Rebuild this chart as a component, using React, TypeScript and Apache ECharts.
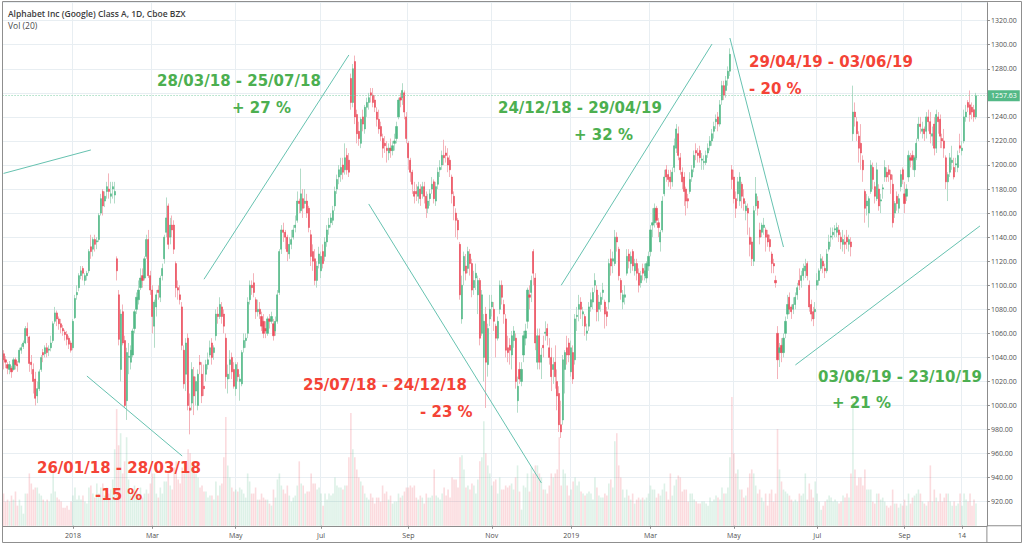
import React, { useEffect, useRef } from "react";
import * as echarts from "echarts";

// ---------- calendar ----------
const firstDay = "2017-11-09";
const holidays = [
  "2017-11-23", "2017-12-25", "2018-01-01", "2018-01-15", "2018-02-19", "2018-03-30",
  "2018-05-28", "2018-07-04", "2018-09-03", "2018-11-22", "2018-12-05", "2018-12-25",
  "2019-01-01", "2019-01-21", "2019-02-18", "2019-04-19", "2019-05-27", "2019-07-04", "2019-09-02",
];
const paddingSlots = 5;

// ---------- tick labels ----------
const xTickLabels: [string, string][] = [
  ["2018-01-02", "2018"], ["2018-03-01", "Mar"], ["2018-05-01", "May"], ["2018-07-02", "Jul"],
  ["2018-09-04", "Sep"], ["2018-11-01", "Nov"], ["2019-01-02", "2019"], ["2019-03-01", "Mar"],
  ["2019-05-01", "May"], ["2019-07-01", "Jul"], ["2019-09-03", "Sep"], ["2019-10-14", "14"],
];

// ---------- candles [open, close, low, high] ----------
const nov2017 = [
  [1043,1038,1030,1046],[1038,1036,1031,1041],[1034,1031,1026,1036],[1030,1034,1026,1037],[1031,1028,1023,1033],
  [1030,1038,1029,1040],[1038,1034,1030,1040],[1034,1033,1028,1037],[1036,1046,1035,1048],[1046,1048,1043,1051],
  [1049,1052,1047,1054],[1052,1064,1051,1066],[1064,1058,1052,1069],[1057,1035,1028,1058],[1036,1034,1026,1042]];
const dec2017 = [
  [1030,1020,1010,1035],[1022,1006,1000,1028],[1008,1014,1002,1020],[1014,1028,1012,1030],[1030,1040,1028,1042],
  [1044,1042,1036,1047],[1043,1048,1040,1050],[1048,1044,1040,1052],[1046,1047,1041,1050],[1048,1052,1045,1058],
  [1054,1068,1052,1070],[1070,1077,1068,1082],[1077,1072,1066,1079],[1072,1068,1063,1074],[1068,1065,1060,1072],
  [1064,1062,1058,1067],[1061,1059,1054,1063],[1059,1055,1050,1062],[1056,1051,1047,1058],[1052,1046,1044,1054]];
const jan2018 = [
  [1048,1070,1046,1072],[1073,1089,1072,1092],[1092,1094,1088,1100],[1098,1108,1095,1110],[1108,1112,1105,1116],
  [1114,1110,1104,1116],[1104,1108,1100,1110],[1108,1110,1104,1112],[1112,1128,1110,1130],[1132,1128,1122,1142],
  [1130,1138,1124,1140],[1138,1134,1128,1142],[1136,1137,1130,1140],[1138,1158,1136,1160],[1160,1172,1158,1176],
  [1178,1166,1158,1180],[1170,1174,1165,1178],[1178,1182,1172,1186],[1180,1178,1172,1193],[1174,1176,1168,1186],
  [1180,1182,1172,1186]];
const feb2018 = [
  [1175,1178,1168,1186],[1122,1112,1104,1124],[1092,1055,1050,1096],[1030,1076,1020,1080],[1078,1052,1050,1084],
  [1054,1000,998,1058],[1004,1044,988,1048],[1040,1041,1026,1052],[1036,1046,1030,1050],[1042,1062,1040,1064],
  [1064,1078,1060,1080],[1080,1090,1076,1094],[1088,1096,1084,1104],[1098,1106,1096,1114],[1108,1104,1098,1114],
  [1106,1122,1104,1124],[1124,1138,1122,1142],[1138,1108,1106,1146],[1108,1096,1092,1112]];
const mar2018 = [
  [1096,1074,1060,1100],[1066,1086,1048,1088],[1082,1092,1074,1096],[1096,1094,1088,1100],[1090,1106,1086,1108],
  [1108,1114,1104,1118],[1122,1140,1118,1142],[1144,1156,1140,1173],[1166,1134,1130,1168],[1140,1150,1134,1156],
  [1150,1146,1140,1158],[1150,1130,1126,1154],[1118,1098,1090,1120],[1098,1096,1088,1104],[1092,1088,1084,1100],
  [1082,1050,1046,1086],[1046,1018,1014,1050],[1026,1052,1012,1056],[1056,1000,996,1060],[998,996,976,1010],
  [1002,1030,996,1036]];
const apr2018 = [
  [1024,1008,992,1032],[1012,1020,1000,1024],[1000,1026,996,1030],[1036,1034,1026,1042],[1026,1008,1002,1036],
  [1016,1014,1008,1034],[1026,1034,1020,1038],[1034,1038,1030,1044],[1042,1048,1040,1054],[1052,1040,1034,1056],
  [1044,1048,1038,1050],[1058,1076,1054,1080],[1076,1074,1068,1082],[1074,1084,1072,1090],[1082,1074,1068,1086],
  [1076,1066,1060,1080],[1056,1024,1014,1060],[1022,1026,1010,1034],[1034,1038,1022,1046],[1040,1028,1022,1044],
  [1030,1016,1014,1036]];
const may2018 = [
  [1014,1034,1008,1036],[1030,1024,1020,1036],[1020,1022,1004,1026],[1018,1044,1016,1046],[1048,1054,1044,1060],
  [1054,1056,1048,1060],[1060,1086,1056,1090],[1088,1100,1084,1104],[1100,1098,1092,1104],[1102,1094,1090,1110],
  [1088,1078,1072,1090],[1078,1080,1074,1088],[1080,1076,1072,1086],[1074,1066,1062,1078],[1070,1060,1056,1076],
  [1064,1062,1056,1070],[1060,1072,1058,1074],[1072,1070,1064,1076],[1070,1074,1068,1078],[1068,1058,1054,1072],
  [1062,1070,1058,1074],[1070,1092,1068,1096]];
const jun2018 = [
  [1094,1128,1092,1130],[1130,1146,1126,1150],[1146,1144,1136,1152],[1144,1140,1130,1146],[1140,1128,1120,1142],
  [1126,1134,1122,1140],[1134,1138,1130,1146],[1140,1146,1138,1150],[1148,1150,1144,1158],[1154,1170,1152,1178],
  [1170,1168,1160,1172],[1162,1176,1160,1197],[1172,1164,1156,1180],[1168,1170,1164,1180],[1170,1160,1156,1176],
  [1164,1148,1144,1166],[1142,1124,1116,1146],[1128,1120,1112,1134],[1122,1104,1100,1130],[1104,1116,1098,1120],
  [1118,1126,1114,1132]];
const jul2018 = [
  [1112,1124,1106,1128],[1128,1118,1114,1134],[1124,1136,1120,1140],[1136,1146,1132,1150],[1148,1150,1142,1156],
  [1152,1156,1148,1160],[1154,1162,1150,1166],[1166,1178,1162,1182],[1180,1188,1176,1192],[1190,1196,1184,1200],
  [1192,1198,1186,1206],[1200,1194,1188,1206],[1196,1206,1192,1218],[1208,1196,1192,1214],[1204,1194,1190,1210],
  [1272,1252,1246,1276],[1252,1280,1248,1284],[1286,1240,1234,1291],[1242,1226,1218,1246],[1228,1222,1216,1236],
  [1218,1238,1214,1240]];
const aug2018 = [
  [1240,1234,1228,1246],[1230,1248,1226,1250],[1248,1252,1240,1256],[1252,1256,1246,1260],[1260,1258,1252,1264],
  [1258,1252,1248,1264],[1254,1248,1244,1258],[1244,1238,1232,1248],[1238,1230,1226,1246],[1232,1224,1220,1236],
  [1222,1214,1206,1226],[1218,1216,1210,1224],[1214,1212,1202,1220],[1210,1214,1204,1218],[1214,1212,1206,1222],
  [1212,1216,1208,1220],[1218,1220,1212,1226],[1222,1232,1218,1236],[1240,1254,1238,1256],[1256,1254,1248,1260],
  [1256,1262,1250,1268],[1260,1244,1238,1262],[1240,1222,1218,1244]];
const sep2018 = [
  [1218,1206,1196,1220],[1204,1194,1186,1206],[1194,1184,1176,1196],[1178,1174,1168,1186],[1178,1176,1170,1184],
  [1174,1182,1168,1186],[1180,1172,1166,1184],[1176,1182,1172,1186],[1182,1174,1168,1186],[1174,1164,1156,1178],
  [1164,1170,1160,1176],[1172,1176,1166,1180],[1180,1184,1176,1190],[1186,1172,1168,1188],[1170,1182,1166,1186],
  [1184,1194,1180,1198],[1196,1198,1190,1204],[1200,1208,1196,1212],[1208,1206,1200,1221]];
const oct2018 = [
  [1210,1208,1202,1216],[1206,1200,1194,1214],[1204,1196,1190,1208],[1190,1176,1168,1192],[1174,1166,1154,1178],
  [1160,1154,1140,1164],[1154,1146,1138,1156],[1134,1092,1088,1136],[1072,1100,1068,1108],[1112,1124,1100,1128],
  [1116,1110,1104,1126],[1114,1128,1110,1132],[1126,1118,1108,1130],[1118,1096,1090,1122],[1098,1104,1092,1112],
  [1106,1110,1096,1118],[1092,1104,1076,1108],[1104,1056,1050,1106],[1060,1092,1058,1096],[1040,1070,1020,1076],
  [1076,1036,998,1082],[1034,1064,1024,1068],[1072,1080,1066,1092]];
const nov2018 = [
  [1082,1086,1074,1092],[1080,1070,1062,1086],[1066,1056,1040,1068],[1056,1070,1054,1074],[1080,1100,1076,1104],
  [1100,1090,1084,1104],[1084,1076,1068,1088],[1072,1046,1040,1076],[1048,1044,1036,1058],[1050,1046,1034,1056],
  [1042,1058,1030,1062],[1054,1062,1048,1066],[1056,1020,1014,1060],[1004,1016,994,1024],[1030,1022,1018,1036],
  [1020,1030,1016,1036],[1042,1058,1036,1062],[1056,1062,1050,1068],[1070,1096,1064,1098],[1092,1090,1080,1100],
  [1094,1104,1086,1108]];
const dec2018 = [
  [1128,1110,1100,1130],[1106,1052,1046,1110],[1036,1058,1030,1064],[1058,1036,1030,1064],[1036,1042,1022,1048],
  [1050,1048,1040,1058],[1060,1061,1054,1070],[1064,1058,1050,1068],[1048,1040,1034,1056],[1040,1024,1012,1048],
  [1030,1034,1018,1040],[1036,1024,1014,1050],[1020,1008,996,1030],[1010,984,978,1016],[984,978,973,1004],
  [988,1038,984,1042],[1030,1044,1010,1046],[1048,1042,1034,1058],[1052,1042,1036,1056]];
const jan2019 = [
  [1028,1048,1024,1054],[1044,1022,1018,1050],[1038,1072,1034,1076],[1074,1075,1062,1082],[1080,1084,1070,1092],
  [1086,1080,1072,1090],[1076,1078,1066,1082],[1074,1066,1058,1076],[1060,1062,1054,1068],[1066,1082,1062,1086],
  [1082,1088,1078,1094],[1086,1094,1080,1098],[1100,1104,1094,1110],[1096,1078,1070,1100],[1080,1086,1070,1092],
  [1084,1090,1078,1094],[1094,1096,1088,1102],[1086,1076,1064,1088],[1078,1074,1066,1082],[1086,1118,1080,1122],
  [1122,1116,1108,1130]];
const feb2019 = [
  [1120,1122,1110,1128],[1118,1140,1116,1146],[1140,1136,1128,1144],[1130,1108,1104,1132],[1104,1094,1088,1106],
  [1086,1092,1080,1096],[1090,1092,1084,1100],[1110,1124,1108,1130],[1126,1120,1114,1130],[1118,1124,1110,1128],
  [1128,1116,1112,1130],[1112,1118,1108,1122],[1118,1110,1104,1122],[1110,1100,1094,1114],[1102,1108,1098,1112],
  [1114,1110,1104,1118],[1108,1112,1104,1118],[1106,1118,1102,1120],[1116,1124,1112,1128]];
const mar2019 = [
  [1128,1146,1124,1150],[1150,1152,1140,1164],[1152,1164,1148,1168],[1164,1154,1150,1166],[1152,1148,1140,1156],
  [1136,1144,1128,1146],[1146,1170,1144,1174],[1176,1190,1174,1196],[1196,1190,1186,1200],[1192,1188,1182,1196],
  [1190,1186,1180,1196],[1186,1194,1182,1198],[1198,1216,1194,1222],[1214,1230,1210,1234],[1226,1208,1204,1232],
  [1206,1196,1192,1210],[1194,1186,1180,1198],[1190,1178,1166,1194],[1180,1170,1158,1182],[1172,1170,1164,1176],
  [1178,1188,1176,1194]];
const apr2019 = [
  [1190,1196,1186,1200],[1198,1208,1194,1212],[1212,1210,1204,1218],[1210,1208,1202,1214],[1212,1206,1202,1216],
  [1204,1205,1196,1210],[1202,1203,1196,1208],[1202,1208,1200,1212],[1210,1214,1206,1218],[1216,1220,1212,1224],
  [1220,1226,1216,1230],[1228,1232,1222,1236],[1236,1238,1230,1242],[1240,1234,1228,1244],[1234,1250,1232,1254],
  [1254,1266,1250,1270],[1266,1258,1254,1270],[1262,1270,1256,1274],[1272,1278,1266,1282],[1278,1292,1274,1297],
  [1196,1188,1180,1200]];
const may2019 = [
  [1190,1172,1168,1196],[1172,1164,1156,1178],[1176,1186,1170,1190],[1170,1190,1166,1194],[1184,1174,1164,1186],
  [1172,1168,1162,1180],[1162,1166,1154,1170],[1164,1160,1142,1168],[1140,1134,1124,1148],[1136,1122,1116,1140],
  [1120,1162,1116,1166],[1166,1176,1162,1190],[1170,1164,1158,1174],[1146,1140,1134,1152],[1144,1150,1140,1152],
  [1148,1150,1142,1156],[1146,1140,1128,1148],[1142,1136,1132,1146],[1138,1132,1128,1142],[1126,1118,1110,1128],
  [1118,1116,1110,1122],[1104,1102,1098,1108]];
const jun2019 = [
  [1060,1038,1022,1066],[1044,1048,1032,1052],[1050,1044,1036,1056],[1044,1056,1040,1060],[1060,1070,1056,1074],
  [1076,1084,1072,1092],[1090,1080,1076,1094],[1082,1078,1072,1084],[1080,1084,1076,1090],[1084,1090,1080,1094],
  [1092,1098,1088,1102],[1104,1100,1096,1114],[1104,1108,1098,1112],[1108,1114,1104,1118],[1112,1116,1106,1122],
  [1118,1108,1104,1120],[1100,1082,1078,1104],[1084,1076,1070,1088],[1078,1072,1066,1082],[1078,1080,1072,1086]];
const jul2019 = [
  [1100,1104,1096,1110],[1104,1112,1100,1114],[1114,1122,1112,1126],[1120,1116,1110,1124],[1114,1112,1106,1118],
  [1112,1126,1110,1130],[1130,1136,1128,1142],[1140,1141,1132,1148],[1142,1144,1138,1148],[1146,1147,1140,1150],
  [1144,1148,1140,1152],[1146,1142,1136,1150],[1140,1136,1130,1144],[1134,1138,1128,1146],[1136,1134,1126,1142],
  [1140,1136,1130,1146],[1134,1138,1128,1142],[1136,1132,1124,1140],[1226,1244,1220,1266],[1244,1240,1232,1252],
  [1236,1226,1220,1240],[1224,1214,1202,1228]];
const aug2019 = [
  [1218,1210,1196,1234],[1204,1196,1186,1208],[1178,1164,1152,1180],[1166,1170,1158,1176],[1160,1172,1148,1174],
  [1178,1200,1176,1204],[1198,1188,1180,1202],[1182,1174,1168,1186],[1172,1196,1170,1202],[1180,1166,1162,1184],
  [1170,1171,1160,1176],[1180,1181,1172,1184],[1190,1198,1186,1204],[1194,1190,1186,1198],[1196,1192,1186,1200],
  [1192,1188,1176,1196],[1184,1152,1148,1192],[1160,1168,1156,1170],[1174,1168,1162,1178],[1164,1172,1160,1176],
  [1182,1192,1178,1196],[1196,1188,1184,1198]];
const sep2019 = [
  [1176,1168,1160,1186],[1174,1180,1170,1184],[1190,1208,1186,1212],[1206,1204,1198,1210],[1208,1204,1196,1212],
  [1196,1206,1190,1208],[1206,1218,1204,1222],[1222,1234,1220,1240],[1234,1232,1226,1240],[1228,1230,1222,1236],
  [1230,1226,1220,1232],[1228,1240,1222,1244],[1240,1236,1228,1246],[1236,1226,1218,1244],[1224,1226,1216,1232],
  [1234,1214,1208,1240],[1214,1242,1210,1246],[1240,1236,1226,1244],[1238,1224,1214,1242],[1222,1220,1214,1226]];
const oct2019 = [
  [1220,1214,1206,1230],[1206,1186,1180,1208],[1186,1192,1170,1194],[1194,1206,1190,1210],[1202,1204,1196,1216],
  [1198,1190,1188,1206],[1200,1201,1194,1206],[1198,1208,1194,1212],[1216,1214,1210,1226],[1212,1214,1208,1220],
  [1220,1240,1218,1246],[1240,1244,1236,1250],[1252,1248,1244,1254],[1250,1242,1236,1262],[1248,1244,1238,1252],
  [1246,1240,1236,1250],[1240,1257.63,1238,1260]];

// ---------- volume (millions) ----------
const volNov2017 = [1.6,1.2,1.3,1.2,1.5,1.3,1.7,1.0,1.3,1.0,0.6,1.6,1.6,2.6,2.1];
const volDec2017 = [1.8,1.9,1.9,1.6,1.5,1.3,1.2,1.3,1.2,1.6,2.8,1.7,1.4,1.3,1.2,0.9,0.9,1.0,0.8,1.2];
const volJan2018 = [1.5,1.9,1.3,1.5,1.3,1.5,1.2,1.1,1.9,2.0,1.6,1.4,2.1,1.6,1.9,2.1,1.5,1.9,1.6,1.8,2.3];
const volFeb2018 = [3.8,5.8,4.0,4.6,2.6,3.2,4.4,2.3,1.5,1.8,2.0,1.7,1.6,1.9,1.4,1.6,1.8,1.6,2.1];
const volMar2018 = [2.6,2.6,1.6,1.4,1.9,1.6,2.2,2.2,2.6,2.0,1.8,2.9,3.2,2.3,2.1,2.9,2.6,3.2,3.8,3.6,3.0];
const volApr2018 = [2.8,2.6,2.4,1.9,2.0,1.7,1.7,1.4,1.5,1.5,1.3,2.2,1.5,2.0,2.1,3.4,5.4,3.0,2.4,1.9,1.7];
const volMay2018 = [1.8,1.7,1.9,1.8,1.6,1.4,2.6,2.2,1.6,1.6,1.9,1.3,1.3,1.6,1.4,1.3,1.3,1.1,1.0,1.8,1.4,2.3];
const volJun2018 = [2.6,2.0,1.8,1.6,2.0,1.5,1.2,1.4,1.5,2.0,3.2,2.1,2.0,1.6,1.7,1.7,2.6,2.1,2.1,1.8,1.9];
const volJul2018 = [1.6,1.0,1.6,1.3,1.6,1.5,1.6,2.4,2.0,1.9,1.9,1.8,2.0,2.0,3.4,5.6,3.8,3.4,2.8,2.4,2.2];
const volAug2018 = [2.0,1.6,1.4,1.3,1.6,1.4,1.1,1.4,1.4,1.2,2.0,1.6,1.7,1.3,1.5,1.1,1.2,1.2,1.6,1.4,1.5,1.7,1.9];
const volSep2018 = [1.9,2.0,1.9,2.0,1.4,1.3,1.5,1.4,1.1,1.6,1.4,1.4,1.5,2.8,1.5,1.4,1.3,1.6,1.9];
const volOct2018 = [1.5,1.8,1.4,2.4,2.3,2.3,1.9,3.4,3.5,2.8,1.9,2.0,1.8,2.1,2.0,1.6,2.3,3.2,3.4,5.2,3.6,3.0,2.6];
const volNov2018 = [2.0,2.2,2.3,1.6,2.4,1.8,1.8,2.0,1.9,2.0,2.1,1.8,2.4,3.0,1.7,0.8,2.0,1.9,2.6,1.7,2.9];
const volDec2018 = [2.6,3.0,3.0,2.6,2.4,1.8,1.8,1.6,2.0,2.6,2.4,2.6,2.8,4.4,2.0,2.8,2.6,2.0,1.5];
const volJan2019 = [1.8,2.2,2.4,2.0,2.2,1.7,1.6,1.5,1.6,1.7,1.6,1.3,2.4,1.9,1.5,1.4,1.4,1.6,1.5,2.1,2.3];
const volFeb2019 = [1.9,4.2,4.6,3.0,2.4,1.8,1.4,1.8,1.5,1.3,1.6,1.1,1.3,1.4,1.3,1.4,1.3,1.4,1.6];
const volMar2019 = [2.0,1.8,1.8,1.4,1.6,1.5,1.8,2.1,1.7,1.3,2.6,1.5,2.0,2.3,2.5,2.4,1.7,1.8,1.8,1.2,1.6];
const volApr2019 = [1.6,1.3,1.2,1.1,1.1,1.2,1.2,1.1,1.0,1.4,1.2,1.3,1.5,1.4,1.3,1.9,1.6,1.6,1.9,3.4,6.4];
const volMay2019 = [3.6,2.6,2.8,1.8,1.8,1.4,1.5,1.9,2.6,2.8,2.6,2.0,1.6,1.8,1.4,1.2,1.6,1.0,1.6,1.8,1.2,1.6];
const volJun2019 = [4.8,2.8,2.2,1.8,1.7,1.6,1.5,1.3,1.2,1.3,1.2,1.6,1.5,1.6,2.6,1.3,2.1,1.8,1.4,2.2];
const volJul2019 = [1.6,1.2,0.8,1.0,1.2,1.3,1.5,1.4,1.2,1.3,1.2,1.1,1.2,1.5,1.4,1.6,1.4,2.6,6.2,2.8,2.0,2.4];
const volAug2019 = [2.4,2.0,2.8,1.8,1.8,1.8,1.2,1.1,1.6,1.6,1.3,1.4,1.2,1.0,0.9,1.0,1.8,1.1,1.1,0.9,1.1,1.0];
const volSep2019 = [1.3,1.0,1.6,1.1,1.4,1.5,1.6,1.8,1.6,1.2,1.1,1.0,1.2,3.0,1.2,1.8,1.4,1.2,1.6,1.2];
const volOct2019 = [1.4,1.6,1.6,1.2,1.0,1.2,1.0,1.1,1.6,1.0,1.6,1.3,1.2,1.6,1.0,1.3,1.1];

// ---------- drawn trend lines: [startIndex, startPrice, endIndex, endPrice] ----------
const trendLines = [
  [0, 1193, 44, 1212.5],
  [42, 1024.5, 90, 958],
  [101, 1105, 174, 1291.5],
  [184, 1167.6, 271, 935.6],
  [281, 1100, 357, 1300.6],
  [366, 1305.6, 393, 1131.8],
  [399, 1033.7, 492, 1149.3],
];

// ---------- annotation texts ----------
const annotationTexts = [
  "28/03/18 - 25/07/18", "+ 27 %",
  "24/12/18 - 29/04/19", "+ 32 %",
  "29/04/19 - 03/06/19", "- 20 %",
  "25/07/18 - 24/12/18", "- 23 %",
  "26/01/18 - 28/03/18", "-15 %",
  "03/06/19 - 23/10/19", "+ 21 %",
];
const annotationKinds = ["up", "up", "up", "up", "down", "down", "down", "down", "down", "down", "up", "up"];
const annotationPos = [
  [157, 81], [232, 108],
  [498, 108], [574, 135],
  [749, 62], [749, 89],
  [303, 385], [420, 412],
  [37, 468], [95, 495],
  [818, 377], [832, 403],
];

const candles: number[][] = [
  ...nov2017, ...dec2017, ...jan2018, ...feb2018, ...mar2018, ...apr2018, ...may2018, ...jun2018,
  ...jul2018, ...aug2018, ...sep2018, ...oct2018, ...nov2018, ...dec2018, ...jan2019, ...feb2019,
  ...mar2019, ...apr2019, ...may2019, ...jun2019, ...jul2019, ...aug2019, ...sep2019, ...oct2019,
];
const volumes: number[] = [
  ...volNov2017, ...volDec2017, ...volJan2018, ...volFeb2018, ...volMar2018, ...volApr2018, ...volMay2018,
  ...volJun2018, ...volJul2018, ...volAug2018, ...volSep2018, ...volOct2018, ...volNov2018, ...volDec2018,
  ...volJan2019, ...volFeb2019, ...volMar2019, ...volApr2019, ...volMay2019, ...volJun2019, ...volJul2019,
  ...volAug2019, ...volSep2019, ...volOct2019,
];

function tradingDays(start: string, count: number): string[] {
  const out: string[] = [];
  const hol = new Set(holidays);
  const d = new Date(start + "T00:00:00Z");
  while (out.length < count) {
    const wd = d.getUTCDay();
    const s = d.toISOString().slice(0, 10);
    if (wd !== 0 && wd !== 6 && !hol.has(s)) out.push(s);
    d.setUTCDate(d.getUTCDate() + 1);
  }
  return out;
}

const UP = "#53b987";
const DOWN = "#eb4d5c";
const WICK_UP = "#b3dcc8";
const WICK_DOWN = "#f4b3ba";
const TEXT_UP = "#4caf50";
const TEXT_DOWN = "#f44336";
const GRID = "#e8eef2";
const AXIS = "#8c8c8c";
const LABEL = "#4f4f4f";
const FONT = '"Open Sans", Roboto, sans-serif';

export default function App() {
  const ref = useRef<HTMLDivElement>(null);

  useEffect(() => {
    if (!ref.current) return;
    const chart = echarts.init(ref.current, undefined, { renderer: "svg" });

    const dates = tradingDays(firstDay, candles.length + paddingSlots);
    const tickMap = new Map(xTickLabels);
    const isTick = (_i: number, v: string) => tickMap.has(v);
    const bodies = candles.map(([o, c]) => [o, c, Math.min(o, c), Math.max(o, c)]);
    const volData = volumes.map((v, i) => ({
      value: v,
      itemStyle: {
        color: candles[i][1] >= candles[i][0] ? "rgba(83,185,135,0.2)" : "rgba(235,77,92,0.2)",
      },
    }));
    const lastPrice = candles[candles.length - 1][1];

    const graphics: any[] = [
      {
        type: "rect", silent: true, z: 100,
        shape: { x: 2.5, y: 1.5, width: 1019, height: 541 },
        style: { fill: "none", stroke: "#8f8f8f", lineWidth: 1 },
      },
      {
        type: "line", silent: true, z: 100,
        shape: { x1: 987, y1: 525.75, x2: 1021.5, y2: 525.75 },
        style: { stroke: AXIS, lineWidth: 1 },
      },
      {
        type: "line", silent: true, z: 100,
        shape: { x1: 986.9, y1: 525.75, x2: 986.9, y2: 542.5 },
        style: { stroke: AXIS, lineWidth: 1 },
      },
      {
        type: "text", silent: true, z: 100, x: 8, y: 13.5,
        style: {
          text: "Alphabet Inc (Google) Class A, 1D, Cboe BZX",
          fill: "#3c3c3c", fontSize: 8.5, fontWeight: 600, fontFamily: FONT, verticalAlign: "middle",
        },
      },
      {
        type: "text", silent: true, z: 100, x: 8, y: 25,
        style: { text: "Vol (20)", fill: "#4a4a4a", fontSize: 8.5, fontFamily: FONT, verticalAlign: "middle" },
      },
      ...annotationTexts.map((t, i) => ({
        type: "text", silent: true, z: 100,
        x: annotationPos[i][0], y: annotationPos[i][1],
        style: {
          text: t,
          fill: annotationKinds[i] === "up" ? TEXT_UP : TEXT_DOWN,
          fontSize: 15, fontWeight: "bold", fontFamily: '"DejaVu Sans", Verdana, sans-serif',
          verticalAlign: "middle", align: "left",
        },
      })),
    ];

    chart.setOption({
      animation: false,
      backgroundColor: "#ffffff",
      grid: { left: 2.56, right: 37.1, top: 2.66, bottom: 22.25, containLabel: false },
      xAxis: {
        type: "category",
        data: dates,
        boundaryGap: true,
        axisLine: { show: true, lineStyle: { color: AXIS, width: 1 } },
        axisTick: { show: true, interval: isTick, alignWithLabel: true, length: 3, lineStyle: { color: AXIS } },
        axisLabel: {
          interval: isTick,
          formatter: (v: string) => tickMap.get(v) || "",
          fontSize: 7, color: LABEL, fontFamily: FONT, margin: 6,
        },
        splitLine: { show: true, interval: isTick, lineStyle: { color: GRID, width: 1 } },
      },
      yAxis: [
        {
          type: "value",
          position: "right",
          min: 900,
          max: 1335,
          interval: 20,
          axisLine: { show: true, lineStyle: { color: AXIS, width: 1 } },
          axisTick: { show: true, length: 3, lineStyle: { color: AXIS } },
          axisLabel: {
            // the last-price tag covers the neighbouring tick label
            formatter: (v: number) => (Math.abs(v - lastPrice) < 8 ? "" : v.toFixed(2)),
            fontSize: 7, color: LABEL, fontFamily: FONT, margin: 4,
            showMinLabel: false, showMaxLabel: false,
          },
          splitLine: { show: true, lineStyle: { color: GRID, width: 1 } },
        },
        { type: "value", min: 0, max: 26, show: false, splitLine: { show: false } },
      ],
      series: [
        {
          type: "bar",
          yAxisIndex: 1,
          data: volData,
          barWidth: 1.6,
          silent: true,
          z: 1,
        },
        {
          type: "candlestick",
          data: candles,
          barWidth: 1,
          clip: false,
          silent: true,
          z: 2,
          itemStyle: {
            color: WICK_UP, color0: WICK_DOWN, borderColor: WICK_UP, borderColor0: WICK_DOWN, borderWidth: 1,
          },
          markLine: {
            silent: true,
            symbol: ["none", "none"],
            animation: false,
            label: { show: false },
            lineStyle: { color: "#66c2b0", width: 1, type: "solid" },
            data: [
              ...trendLines.map(([i1, p1, i2, p2]) => [{ coord: [i1, p1] }, { coord: [i2, p2] }]),
              {
                yAxis: lastPrice,
                lineStyle: { color: "#7fcfa6", width: 1, type: [1, 2] },
                label: {
                  show: true,
                  position: "end",
                  distance: 1,
                  formatter: lastPrice.toFixed(2),
                  backgroundColor: UP,
                  color: "#ffffff",
                  fontSize: 7,
                  fontFamily: FONT,
                  padding: [2, 3, 2, 3],
                },
              },
            ],
          },
        },
        {
          type: "candlestick",
          data: bodies,
          barWidth: 1.6,
          silent: true,
          z: 3,
          itemStyle: { color: UP, color0: DOWN, borderColor: UP, borderColor0: DOWN, borderWidth: 0.6 },
        },
      ],
      graphic: graphics,
    });

    return () => chart.dispose();
  }, []);

  return (
    <div
      ref={ref}
      style={{ position: "absolute", left: 0, top: 0, width: 1024, height: 548 }}
    />
  );
}
